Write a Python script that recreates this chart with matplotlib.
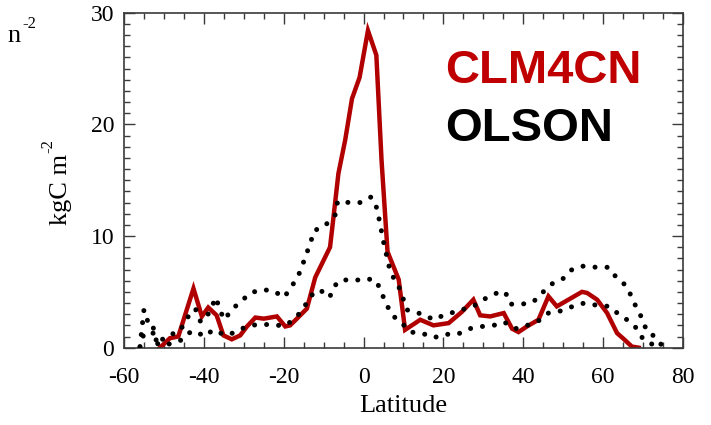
import matplotlib
matplotlib.use("Agg")
import matplotlib.pyplot as plt
from matplotlib.ticker import MultipleLocator

plt.rcParams["axes.unicode_minus"] = False

# CLM4CN zonal mean (kgC m-2)
clm_lat = [-51, -48.5, -46.4, -42.6, -40.5, -38.9, -36.8, -35.1, -33, -30.9, -29.2,
           -27.1, -25, -21.7, -19.6, -18.4, -16.7, -14.2, -12.1, -8.4, -7.5, -6.3,
           -4.6, -2.9, -1.0, 1.1, 3.2, 4.5, 6.0, 8.8, 10.4, 14.2, 17.5, 21.3, 24.6,
           27.5, 29.2, 31.7, 35.1, 37.2, 38.8, 40.9, 43.8, 46.3, 48.4, 51.8, 54.7,
           56.0, 58.5, 61.0, 63.5, 65.1, 67.2, 68.9]
clm_val = [0.0, 0.85, 1.0, 5.3, 2.8, 3.6, 2.9, 1.1, 0.75, 1.1, 1.9,
           2.7, 2.6, 2.8, 1.9, 2.0, 2.6, 3.5, 6.3, 9.0, 11.8, 15.6,
           18.6, 22.3, 24.2, 28.4, 26.2, 16.8, 8.6, 6.1, 1.6, 2.5, 2.0, 2.2, 3.2,
           4.3, 2.9, 2.8, 3.1, 1.7, 1.4, 1.9, 2.5, 4.6, 3.7, 4.4, 5.0,
           4.9, 4.3, 3.1, 1.3, 0.8, 0.1, 0.0]

# OLSON upper bound
olson_hi_lat = [-56, -55, -54, -53, -51.7, -49.3, -46.2, -44.5, -43, -42, -40.8, -38.7,
                -37, -35.8, -34.8, -33.1, -30.8, -28.4, -25.5, -22.6, -19.9, -18.2,
                -16.5, -15.3, -14.3, -13.2, -12.4, -10, -7.1, -6.5, -3.6, -0.8, 1.9,
                3.2, 3.9, 4.5, 5.1, 5.8, 6.5, 7.7, 9.2, 10.8, 12.3, 15, 17.5, 20, 24.6,
                27.5, 30.5, 33.4, 35.5, 36.7, 39.7, 42.5, 45, 47.1, 50, 52.2, 55, 58.4,
                61.3, 63.3, 65.6, 67.1, 68.3, 69.8, 70.9, 73.3, 75, 77]
olson_hi_val = [0.1, 3.4, 2.3, 2.3, 0.3, 1.1, 1.4, 2.4, 3.4, 3.4, 2.3, 3.1,
                4.5, 3.2, 2.5, 3.4, 4.1, 4.9, 5.2, 5.1, 4.5, 5.4,
                6.3, 7.4, 8.4, 9.5, 10.5, 10.8, 11.9, 13.1, 13.0, 13.0, 13.5,
                12.6, 11.5, 10.4, 9.3, 8.2, 7.1, 6.1, 5.2, 3.4, 3.2, 3.0, 2.5, 2.9, 3.4,
                3.7, 4.4, 4.9, 5.0, 3.9, 3.9, 4.1, 5.0, 5.7, 6.2, 7.0, 7.3, 7.2,
                7.2, 6.3, 5.6, 4.6, 3.6, 2.6, 1.5, 0.9, 0.05, 0.0]

# OLSON lower bound
olson_lo_lat = [-56, -55, -52.5, -51.5, -49, -46, -44, -42, -40, -37.6, -35.8, -34,
                -31.2, -28.4, -25, -22, -19.4, -16.7, -14.9, -13.4, -11, -8.5, -7.4,
                -5.5, -2.4, 0.6, 3.2, 4.4, 5.7, 7.2, 9.6, 11.7, 14.6, 17.6, 20.5, 23.5,
                26.5, 29.7, 32.6, 35.2, 38, 41, 43.8, 46.3, 49.5, 52.4, 55.3, 58.4,
                61.5, 63.9, 66.4, 68.5, 70.1, 72.9, 75]
olson_lo_val = [0.0, 1.3, 1.3, 0.3, 0.3, 0.6, 1.3, 1.5, 1.0, 1.6, 1.3, 1.1,
                1.6, 2.0, 2.1, 2.0, 2.0, 2.8, 3.6, 4.6, 5.2, 4.5, 5.5,
                6.1, 6.0, 6.2, 6.0, 5.0, 3.9, 2.9, 2.2, 1.4, 1.3, 0.9, 1.2, 1.2,
                1.7, 1.9, 2.0, 2.3, 1.7, 2.0, 2.4, 3.1, 3.3, 3.7, 4.0, 3.8,
                3.7, 3.0, 2.4, 1.7, 0.7, 0.2, 0.0]

serif = "Liberation Serif"
axis_col = "#3a3a3a"

fig = plt.figure(figsize=(7.11, 4.25), dpi=100)
ax = fig.add_axes([0.1744, 0.1819, 0.7862, 0.7882])

ax.plot(clm_lat, clm_val, color="#b00000", lw=3.2, solid_joinstyle="miter", zorder=2)
for lat, val in [(olson_hi_lat, olson_hi_val), (olson_lo_lat, olson_lo_val)]:
    ax.plot(lat, val, color="black", lw=3.6, dashes=(0.01, 2.4),
            dash_capstyle="round", zorder=3)

ax.set_xlim(-60, 80)
ax.set_ylim(0, 30)
ax.xaxis.set_major_locator(MultipleLocator(20))
ax.xaxis.set_minor_locator(MultipleLocator(5))
ax.yaxis.set_major_locator(MultipleLocator(10))
ax.yaxis.set_minor_locator(MultipleLocator(1))
ax.tick_params(which="both", direction="in", top=True, right=True, color=axis_col,
               width=1.0)
ax.tick_params(which="major", length=8, labelsize=17)
ax.tick_params(which="minor", length=4.5)
ax.tick_params(axis="x", which="major", pad=14)
ax.tick_params(axis="y", which="major", pad=7)
for s in ax.spines.values():
    s.set_color(axis_col)
    s.set_linewidth(1.2)
for lab in ax.get_xticklabels() + ax.get_yticklabels():
    lab.set_family(serif)
ylabs = ax.get_yticklabels()
ylabs[0].set_va("bottom")
ylabs[-1].set_va("top")

ax.set_xlabel("Latitude", family=serif, fontsize=19, labelpad=5)

# y label with a small raised "-2", drawn rotated
fig.text(0.101, 0.638, "kgC m", family=serif, fontsize=19, rotation=90,
         ha="right", va="top")
fig.text(0.068, 0.640, "-2", family=serif, fontsize=12, rotation=90,
         ha="center", va="bottom")
# cut-off label from the neighbouring panel
fig.text(0.010, 0.900, "n", family=serif, fontsize=19, ha="left", va="baseline")
fig.text(0.031, 0.935, "-2", family=serif, fontsize=12, ha="left", va="baseline")

ax.text(0.574, 0.79, "CLM4CN", transform=ax.transAxes, family="Liberation Sans",
        weight="bold", fontsize=34, color="#c00000", ha="left", va="baseline")
ax.text(0.574, 0.617, "OLSON", transform=ax.transAxes, family="Liberation Sans",
        weight="bold", fontsize=34, color="black", ha="left", va="baseline")

fig.savefig("out.png", dpi=100)
